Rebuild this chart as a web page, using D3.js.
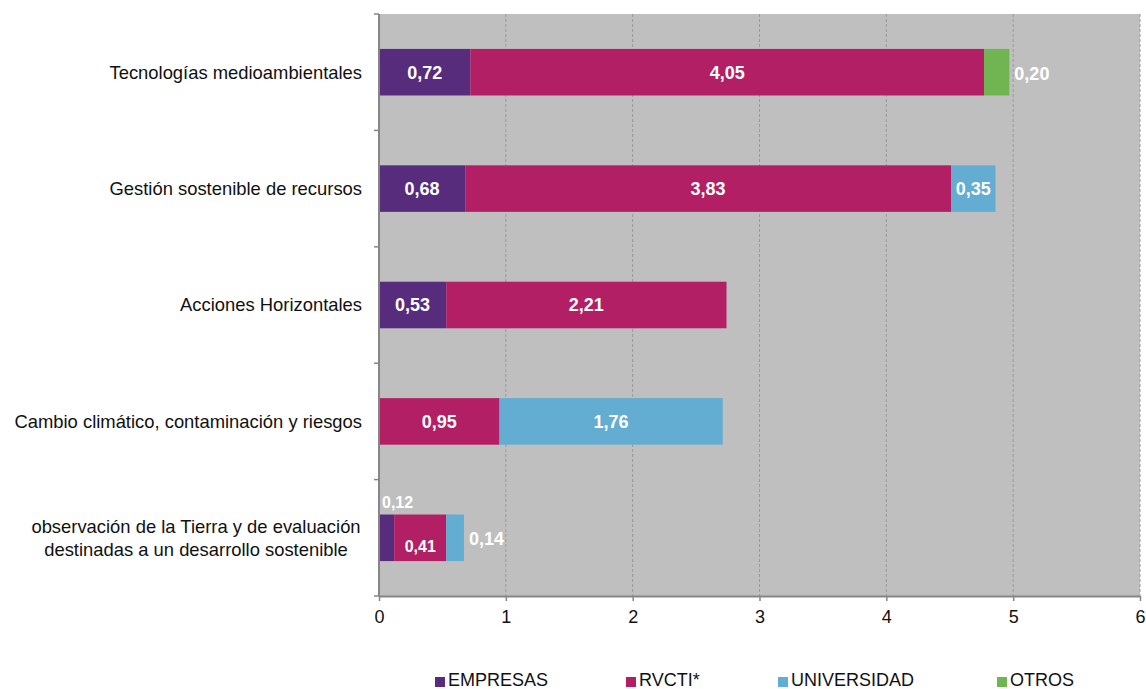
<!DOCTYPE html>
<html><head><meta charset="utf-8">
<script src="https://cdn.jsdelivr.net/npm/d3@7"></script>
<style>body{margin:0;background:#fff}svg{display:block}text{font-family:Arial,"Liberation Sans",sans-serif}</style>
</head><body>
<svg id="c" width="1146" height="689"></svg>
<script>
const categories = ["Tecnologías medioambientales","Gestión sostenible de recursos","Acciones Horizontales","Cambio climático, contaminación y riesgos","observación de la Tierra y de evaluación\ndestinadas a un desarrollo sostenible"];
const seriesNames = ["EMPRESAS","RVCTI*","UNIVERSIDAD","OTROS"];
const empresas = [0.72,0.68,0.53,0,0.12];
const rvcti = [4.05,3.83,2.21,0.95,0.41];
const universidad = [0,0.35,0,1.76,0.14];
const otros = [0.20,0,0,0,0];
const xTicks = [0,1,2,3,4,5,6];
const colors = ["#582C7D","#B21F65","#63ADD2","#70B551"];

const svg = d3.select("#c");
const L=379,R=1140,T=14,B=596;
const x = d3.scaleLinear().domain([0,6]).range([L,R]);
const y = d3.scaleBand().domain(categories).range([T,B]).paddingInner(0.6).paddingOuter(0.3);

svg.append("rect").attr("x",L).attr("y",T).attr("width",R-L).attr("height",B-T).attr("fill","#BFBFBF");
svg.append("g").selectAll("line").data(xTicks.filter(d=>d>0)).join("line")
  .attr("x1",d=>x(d)).attr("x2",d=>x(d)).attr("y1",T).attr("y2",B)
  .attr("stroke","#9a9a9a").attr("stroke-width",1).attr("stroke-dasharray","3,2");

const seriesArr=[empresas,rvcti,universidad,otros];
const rows = categories.map((c,i)=>{let acc=0;return seriesArr.map((s,k)=>{const v=s[i];const r={cat:c,i,k,v,x0:acc,x1:acc+v};acc+=v;return r;});});
const segs = rows.flat().filter(d=>d.v>0);
svg.append("g").selectAll("rect").data(segs).join("rect")
  .attr("x",d=>x(d.x0)).attr("width",d=>x(d.x1)-x(d.x0))
  .attr("y",d=>y(d.cat)).attr("height",y.bandwidth())
  .attr("fill",d=>colors[d.k]);

const fmt = v=>v.toFixed(2).replace(".",",");
const lab = svg.append("g");
segs.forEach(d=>{
  const w = x(d.x1)-x(d.x0);
  const cy = y(d.cat)+y.bandwidth()/2;
  let tx=(x(d.x0)+x(d.x1))/2, ty=cy, anchor="middle", size=18;
  const last = d.i===categories.length-1;
  if(last){size=16;}
  if(w<40){
    if(rows[d.i].slice(d.k+1).every(r=>r.v===0)){
      tx=x(d.x1)+5; anchor="start"; size=18; ty=cy+1;
    } else {
      tx=x(d.x0)+3; anchor="start"; ty=y(d.cat)-12;
    }
  } else if(last){ ty=cy+9; }
  lab.append("text").attr("x",tx).attr("y",ty).attr("dy","0.35em").attr("text-anchor",anchor)
    .attr("fill","#fff").attr("font-size",size).attr("font-weight","bold").text(fmt(d.v));
});

const ax = svg.append("g").attr("transform",`translate(0,${B})`).call(d3.axisBottom(x).tickValues(xTicks).tickSize(5).tickPadding(9).tickFormat(d3.format("d")));
ax.select(".domain").attr("stroke","#868686").attr("stroke-width",2).attr("d",`M${L},0.5H${R}`);
ax.selectAll(".tick line").attr("stroke","#868686").attr("stroke-width",1.5);
ax.selectAll(".tick text").attr("font-size",18).attr("fill","#111").attr("font-family","Arial, Liberation Sans, sans-serif");

const yBounds = [T].concat(categories.map(c=>y(c)+y.bandwidth()/2+y.step()/2));
const ly = svg.append("g");
ly.append("line").attr("x1",L).attr("x2",L).attr("y1",T).attr("y2",B).attr("stroke","#868686").attr("stroke-width",2);
ly.selectAll(".t").data(yBounds).join("line").attr("class","t")
  .attr("x1",L-5).attr("x2",L).attr("y1",d=>d).attr("y2",d=>d).attr("stroke","#868686").attr("stroke-width",1.5);

categories.forEach(c=>{
  const lines=c.split("\n");
  const cy=y(c)+y.bandwidth()/2;
  if(lines.length===1){
    svg.append("text").attr("x",362).attr("y",cy).attr("dy","0.35em").attr("text-anchor","end")
      .attr("font-size",18.4).attr("fill","#111").text(c);
  } else {
    lines.forEach((t,j)=>{
      svg.append("text").attr("x",196).attr("y",cy-11+j*23).attr("dy","0.35em").attr("text-anchor","middle")
        .attr("font-size",18.4).attr("fill","#111").text(t);
    });
  }
});

const legX=[435,626,778,997];
const lg=svg.append("g");
seriesNames.forEach((n,k)=>{
  lg.append("rect").attr("x",legX[k]).attr("y",677).attr("width",10).attr("height",10).attr("fill",colors[k]);
  lg.append("text").attr("x",legX[k]+13).attr("y",686).attr("font-size",18).attr("fill","#111").text(n);
});
</script>
</body></html>
